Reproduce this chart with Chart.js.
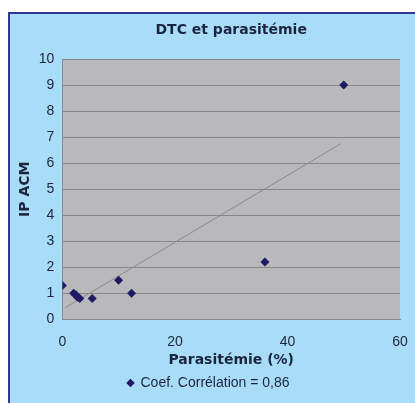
<!DOCTYPE html>
<html><head><meta charset="utf-8">
<script src="https://cdn.jsdelivr.net/npm/chart.js@4"></script>
<style>
html,body{margin:0;padding:0;background:#fff;width:415px;height:403px;overflow:hidden;}
#panel{position:absolute;left:8px;top:12px;width:420px;height:400px;background:#a9dcf6;border:2px solid #2c3796;box-sizing:border-box;}
#wrap{position:absolute;left:0;top:0;width:415px;height:403px;}
</style></head>
<body>
<div id="panel"></div>
<div id="wrap"><canvas id="c" width="415" height="403"></canvas></div>
<script>
const parasitemia = [0, 2, 2.4, 2.7, 3.1, 5.3, 10, 12.3, 36, 50];
const ipAcm = [1.3, 1.0, 0.95, 0.85, 0.8, 0.8, 1.5, 1.0, 2.2, 9.0];
const trendX = [0.5, 49.5];
const trendY = [0.45, 6.75];
const seriesName = 'Coef. Corrélation = 0,86';
const chartTitle = 'DTC et parasitémie';
const xTitle = 'Parasitémie (%)';
const yTitle = 'IP ACM';
const txt = '#1c2540';

const plotBg = {
  id:'plotBg',
  beforeDraw(chart){
    const {ctx, chartArea:a} = chart;
    ctx.save();
    ctx.fillStyle = '#b9b9bb';
    ctx.fillRect(a.left, a.top, a.right-a.left, a.bottom-a.top);
    ctx.restore();
  },
  afterDraw(chart){
    const {ctx, chartArea:a} = chart;
    ctx.save();
    ctx.fillStyle = txt;
    ctx.font = 'bold 14px "DejaVu Sans"';
    ctx.textAlign = 'center';
    ctx.textBaseline = 'middle';
    ctx.fillText(chartTitle, (a.left + a.right) / 2, 30);
    ctx.restore();
  }
};

new Chart(document.getElementById('c'), {
  type:'scatter',
  data:{datasets:[
    {label:seriesName, data:parasitemia.map((x,i)=>({x, y:ipAcm[i]})),
     pointStyle:'rectRot', pointRadius:4.5, backgroundColor:'#1d1a66', borderColor:'#1d1a66', borderWidth:0, order:0},
    {label:'trend', type:'line', data:trendX.map((x,i)=>({x, y:trendY[i]})),
     borderColor:'#8a8a8e', borderWidth:1, pointRadius:0, fill:false, order:1}
  ]},
  options:{
    responsive:false, animation:false,
    layout:{padding:{left:17, right:15, top:59, bottom:3}},
    plugins:{
      title:{display:false},
      legend:{position:'bottom', labels:{filter:i=>i.text!=='trend', usePointStyle:true, pointStyle:'rectRot', boxWidth:6, boxHeight:6, color:txt, font:{family:'Liberation Sans', size:14}, padding:7}},
      tooltip:{enabled:false}
    },
    scales:{
      x:{type:'linear', min:0, max:60, ticks:{stepSize:20, color:txt, font:{family:'Liberation Sans', size:14}, padding:14},
         afterFit:s=>{s.paddingRight = 0;},
         grid:{display:false, drawTicks:false, tickLength:0}, border:{color:'#8a8a8e'},
         title:{display:true, text:xTitle, color:txt, font:{family:'DejaVu Sans', size:14, weight:'bold'}, padding:{top:-12, bottom:0}}},
      y:{min:0, max:10, ticks:{stepSize:1, color:txt, font:{family:'Liberation Sans', size:14}, padding:8},
         grid:{color:'#85878b', lineWidth:1, drawTicks:false, tickLength:0}, border:{color:'#8a8a8e'},
         title:{display:true, text:yTitle, color:txt, font:{family:'DejaVu Sans', size:14, weight:'bold'}, padding:{top:0, bottom:-3}}}
    }
  },
  plugins:[plotBg]
});
</script>
</body></html>
